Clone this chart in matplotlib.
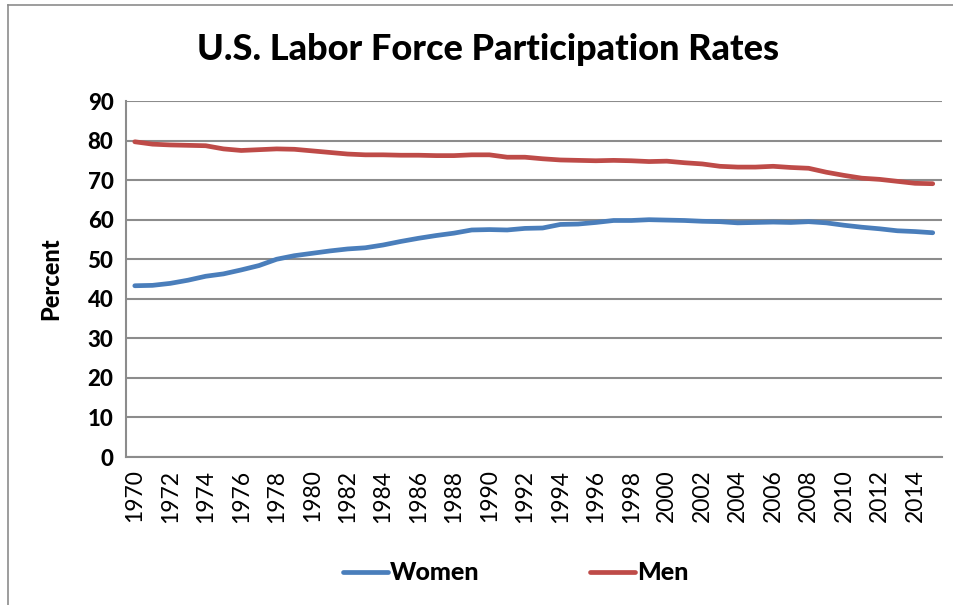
import matplotlib
matplotlib.use("Agg")
import matplotlib.pyplot as plt
from matplotlib.lines import Line2D

# Labor force participation rates, 1970-2015
years = list(range(1970, 2016))
women = [43.3, 43.4, 43.9, 44.7, 45.7, 46.3, 47.3, 48.4, 50.0, 50.9,
         51.5, 52.1, 52.6, 52.9, 53.6, 54.5, 55.3, 56.0, 56.6, 57.4,
         57.5, 57.4, 57.8, 57.9, 58.8, 58.9, 59.3, 59.8, 59.8, 60.0,
         59.9, 59.8, 59.6, 59.5, 59.2, 59.3, 59.4, 59.3, 59.5, 59.2,
         58.6, 58.1, 57.7, 57.2, 57.0, 56.7]
men = [79.7, 79.1, 78.9, 78.8, 78.7, 77.9, 77.5, 77.7, 77.9, 77.8,
       77.4, 77.0, 76.6, 76.4, 76.4, 76.3, 76.3, 76.2, 76.2, 76.4,
       76.4, 75.8, 75.8, 75.4, 75.1, 75.0, 74.9, 75.0, 74.9, 74.7,
       74.8, 74.4, 74.1, 73.5, 73.3, 73.3, 73.5, 73.2, 73.0, 72.0,
       71.2, 70.5, 70.2, 69.7, 69.2, 69.1]
y_ticks = list(range(0, 100, 10))

plt.rcParams["font.family"] = ["Lato", "DejaVu Sans"]

fig = plt.figure(figsize=(9.54, 6.05), dpi=100)
ax = fig.add_axes([0.132, 0.2446, 0.855, 0.5884])

x = list(range(len(years)))
ax.plot(x, women, color="#4a7ebb", lw=3.4, label="Women", solid_capstyle="round")
ax.plot(x, men, color="#be4b48", lw=3.4, label="Men", solid_capstyle="round")

ax.set_xlim(-0.5, len(years) - 0.5)
ax.set_ylim(0, 90)
ax.set_yticks(y_ticks)
ax.set_yticklabels([str(v) for v in y_ticks], fontsize=16, fontweight="black")
ax.set_xticks(x[::2])
ax.set_xticklabels([str(y) for y in years[::2]], rotation=90, fontsize=16.5)
ax.tick_params(length=0, pad=9)
ax.yaxis.grid(True, color="#8c8c8c", lw=1.5)
ax.set_axisbelow(True)
for side in ["top", "right"]:
    ax.spines[side].set_visible(False)
for side in ["left", "bottom"]:
    ax.spines[side].set_color("#8c8c8c")
    ax.spines[side].set_linewidth(1.5)

ax.set_ylabel("Percent", fontsize=17, fontweight="black", labelpad=18)
fig.text(0.512, 0.918, "U.S. Labor Force Participation Rates", ha="center",
         va="center", fontsize=26, fontweight="black")

leg = ax.legend(loc="upper center", bbox_to_anchor=(0.478, -0.23), ncol=2,
                frameon=False, prop={"size": 18, "weight": "black"},
                columnspacing=4.4, handlelength=1.8, handletextpad=0.1)

# outer frame of the chart box
fig.add_artist(Line2D([8 / 954, 8 / 954], [0, 1 - 5 / 605], color="#8c8c8c", lw=1.2))
fig.add_artist(Line2D([8 / 954, 1], [1 - 5 / 605, 1 - 5 / 605], color="#8c8c8c", lw=1.2))

fig.savefig("out.png", dpi=100)
